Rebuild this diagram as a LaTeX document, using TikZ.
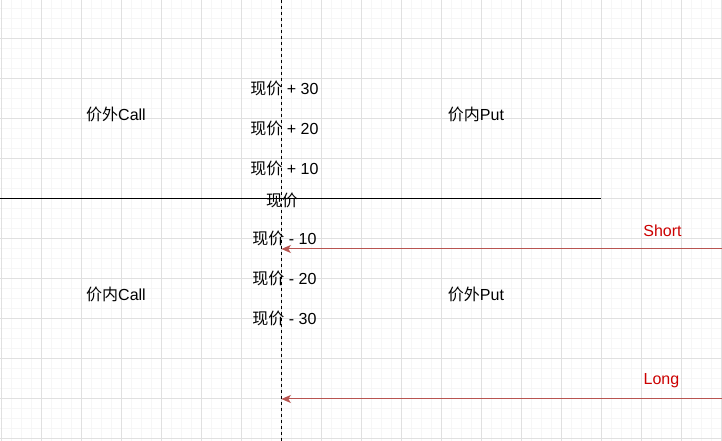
\documentclass[tikz,border=0pt]{standalone}
\usepackage{fontspec}
\setmainfont{Liberation Sans}
\newfontfamily\cjk{Noto Sans CJK SC}
\usetikzlibrary{arrows.meta}
\definecolor{gridminor}{HTML}{F6F6F6}
\definecolor{gridmajor}{HTML}{E0E0E0}
\definecolor{arrred}{HTML}{B85450}
\definecolor{txtred}{HTML}{CC0000}
\tikzset{
  minorline/.style={draw=gridminor, line width=0.75pt},
  majorline/.style={draw=gridmajor, line width=0.75pt},
  lbl/.style={inner sep=0pt, font=\fontsize{12pt}{14pt}\selectfont, text=black},
  redlbl/.style={lbl, text=txtred},
  axisline/.style={draw=black, line width=0.75pt},
  dashline/.style={draw=black, line width=0.75pt, dash pattern=on 2.25pt off 2.25pt},
  arr/.style={draw=arrred, line width=0.75pt, -{Stealth[length=7pt,width=6pt,inset=1.8pt]}}
}
\begin{document}
\begin{tikzpicture}[x=0.75pt,y=-0.75pt]
\useasboundingbox (0,0) rectangle (722,441);
\fill[white] (0,0) rectangle (722,441);
% grid
\foreach \x in {11,21,31,51,61,71,91,101,111,131,141,151,171,181,191,211,221,231,251,261,271,291,301,311,331,341,351,371,381,391,411,421,431,451,461,471,491,501,511,531,541,551,571,581,591,611,621,631,651,661,671,691,701,711}
  \draw[minorline] (\x,0) -- (\x,441);
\foreach \y in {9,19,29,49,59,69,89,99,109,129,139,149,169,179,189,209,219,229,249,259,269,289,299,309,329,339,349,369,379,389,409,419,429}
  \draw[minorline] (0,\y) -- (722,\y);
\foreach \x in {1,41,...,721}
  \draw[majorline] (\x,0) -- (\x,441);
\foreach \y in {39,79,...,439}
  \draw[majorline] (0,\y) -- (722,\y);
% axes
\coordinate (hl) at (0,199);
\coordinate (hr) at (601,199);
\coordinate (vt) at (281,0);
\coordinate (vb) at (281,441);
\draw[axisline] (hl) -- (hr);
\draw[dashline] (vt) -- (vb);
% labels
\node[lbl] (p30) at (284.5,88) {{\cjk 现价} + 30};
\node[lbl] (p20) at (284.5,128) {{\cjk 现价} + 20};
\node[lbl] (p10) at (284.5,168) {{\cjk 现价} + 10};
\node[lbl] (p0) at (282,200) {\cjk 现价};
\node[lbl] (m10) at (284.5,238) {{\cjk 现价} - 10};
\node[lbl] (m20) at (284.5,278) {{\cjk 现价} - 20};
\node[lbl] (m30) at (284.5,318) {{\cjk 现价} - 30};
\node[lbl] (otmcall) at (116,114) {{\cjk 价外}Call};
\node[lbl] (itmput) at (476,114) {{\cjk 价内}Put};
\node[lbl] (itmcall) at (116,294) {{\cjk 价内}Call};
\node[lbl] (otmput) at (476,294) {{\cjk 价外}Put};
\node[redlbl] (short) at (662.5,231) {Short};
\node[redlbl] (long) at (661.5,380.5) {Long};
% arrows
\coordinate (s1) at (722,249);
\coordinate (s2) at (281.5,249);
\coordinate (l1) at (722,399);
\coordinate (l2) at (281.5,399);
\draw[arr] (s1) -- (s2);
\draw[arr] (l1) -- (l2);
\end{tikzpicture}
\end{document}
